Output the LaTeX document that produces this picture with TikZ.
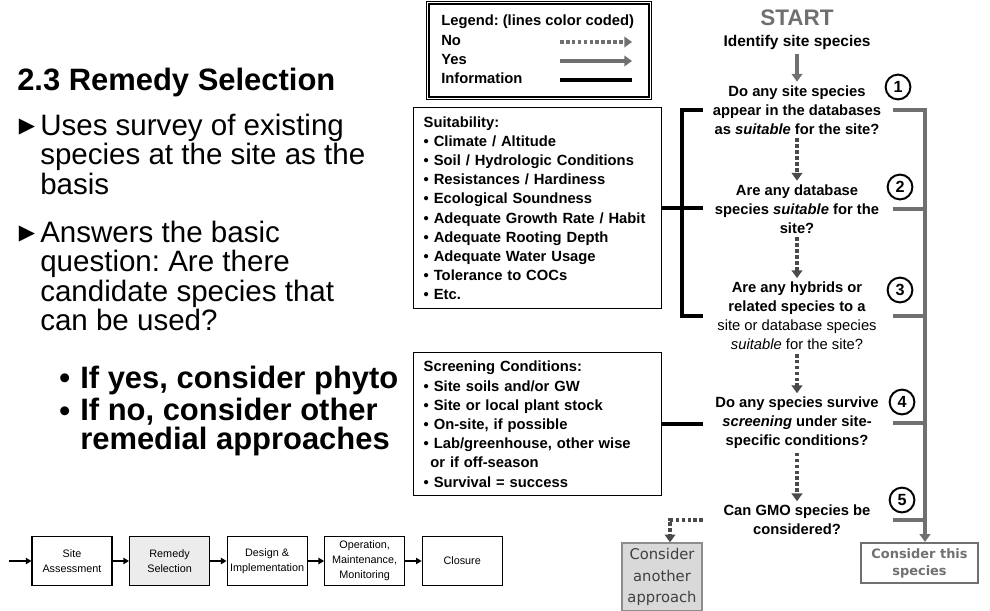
\documentclass[tikz,border=0pt]{standalone}
\usepackage{fontspec}
\setmainfont{Liberation Sans}
\newfontfamily\dejavu{DejaVu Sans}
\usetikzlibrary{arrows.meta,positioning}
\frenchspacing

\definecolor{yesgray}{HTML}{707070}
\definecolor{nogray}{HTML}{4A4A4A}
\definecolor{altfill}{HTML}{D9D9D9}
\definecolor{stagefill}{HTML}{ECECEC}

\begin{document}
\begin{tikzpicture}[x=0.025cm,y=-0.025cm,
  bodytxt/.style={anchor=north west,align=left,inner sep=0pt,font=\fontsize{21}{20.8}\selectfont},
  subtxt/.style={bodytxt,font=\fontsize{22}{20.8}\selectfont\bfseries},
  qtxt/.style={align=center,inner sep=2.5pt,font=\fontsize{10.5}{13.6}\selectfont\bfseries},
  numc/.style={circle,draw,line width=1.4pt,minimum size=0.62cm,inner sep=0pt,font=\fontsize{11.5}{11.5}\selectfont\bfseries},
  infobox/.style={draw,line width=1pt,anchor=north west,align=left,inner xsep=7pt,text width=5.7cm,minimum width=6.2cm,font=\fontsize{10.5}{13.65}\selectfont\bfseries},
  legtxt/.style={anchor=west,inner sep=0pt,text height=7.5pt,text depth=2pt,font=\fontsize{10.5}{12}\selectfont\bfseries},
  yesline/.style={draw=yesgray,line width=2.2pt},
  noline/.style={draw=nogray,line width=2.2pt,dash pattern=on 2.6pt off 1.6pt},
  infoline/.style={draw=black,line width=2.6pt},
  flowtip/.style={-{Triangle[length=5.5pt,width=7.5pt]}},
  stage/.style={draw,line width=0.8pt,minimum width=2cm,minimum height=1.225cm,align=center,inner sep=1pt,font=\fontsize{7.7}{10.6}\selectfont},
  stagearrow/.style={line width=1pt,-{Triangle[length=4pt,width=4.5pt]}}
]
\useasboundingbox (0,0) rectangle (990,610);

% slide text on the left
\node[anchor=base west,inner sep=0pt,font=\fontsize{22}{26}\selectfont\bfseries] (title) at (17,91) {2.3 Remedy Selection};
\node[inner sep=0pt,font=\dejavu\fontsize{15}{15}\selectfont] (m1) at (27,127) {▶};
\node[bodytxt] (b1) at (40,114) {Uses survey of existing\\species at the site as the\\basis};
\node[inner sep=0pt,font=\dejavu\fontsize{15}{15}\selectfont] (m2) at (27,234) {▶};
\node[bodytxt] (b2) at (40,221) {Answers the basic\\question: Are there\\candidate species that\\can be used?};
\node[anchor=base west,inner sep=0pt,font=\fontsize{22}{22}\selectfont\bfseries] (d1) at (59,388) {•};
\node[anchor=base west,inner sep=0pt,font=\fontsize{22}{22}\selectfont\bfseries] (yes) at (80,388) {If yes, consider phyto};
\node[anchor=base west,inner sep=0pt,font=\fontsize{22}{22}\selectfont\bfseries] (d2) at (59,421) {•};
\node[subtxt] (no) at (80,398) {If no, consider other\\remedial approaches};

% legend
\node[draw,line width=1.1pt,double=white,double distance=0.7pt,minimum width=5.55cm,minimum height=2.375cm,inner sep=0pt] (legbox) at (539,50.5) {};
\node[legtxt] (lgt) at (441,22) {Legend: (lines color coded)};
\node[legtxt] (lgno) at (441,42) {No};
\node[legtxt] (lgyes) at (441,61) {Yes};
\node[legtxt] (lginfo) at (441,80) {Information};
\coordinate (la) at (560,0);
\coordinate (lb) at (632,0);
\draw[noline,draw=yesgray,flowtip] (lgno -| la) -- (lgno -| lb);
\draw[yesline,flowtip] (lgyes -| la) -- (lgyes -| lb);
\draw[infoline] (lginfo -| la) -- (lginfo -| lb);

% information boxes
\node[infobox,minimum height=5.025cm] (suit) at (413,107) {Suitability:\\
• Climate / Altitude\\
• Soil / Hydrologic Conditions\\
• Resistances / Hardiness\\
• Ecological Soundness\\
• Adequate Growth Rate / Habit\\
• Adequate Rooting Depth\\
• Adequate Water Usage\\
• Tolerance to COCs\\
• Etc.};
\node[infobox,minimum height=3.575cm] (screen) at (413,352) {Screening Conditions:\\
• Site soils and/or GW\\
• Site or local plant stock\\
• On-site, if possible\\
• Lab/greenhouse, other wise\\
\hspace*{0.45em}or if off-season\\
• Survival = success};

% decision chain
\node[qtxt,font=\fontsize{16}{18}\selectfont\bfseries,text=yesgray] (start) at (797,18) {START};
\node[qtxt,font=\fontsize{11}{13}\selectfont\bfseries] (ident) at (797,43) {Identify site species};
\node[qtxt] (q1) at (797,110) {Do any site species\\appear in the databases\\as \textit{suitable} for the site?};
\node[qtxt] (q2) at (797,209) {Are any database\\species \textit{suitable} for the\\site?};
\node[qtxt] (q3) at (797,316) {Are any hybrids or\\related species to a\\{\mdseries site or database species}\\{\mdseries\textit{suitable} for the site?}};
\node[qtxt] (q4) at (797,423) {Do any species survive\\\textit{screening} under site-\\specific conditions?};
\node[qtxt] (q5) at (797,520) {Can GMO species be\\considered?};

\node[numc] (n1) at (898,87) {1};
\node[numc] (n2) at (900,187) {2};
\node[numc] (n3) at (900,290) {3};
\node[numc] (n4) at (902,402) {4};
\node[numc] (n5) at (902,500) {5};

\node[draw=yesgray,line width=1.5pt,minimum width=2.925cm,minimum height=1cm,align=center,text=yesgray,font=\dejavu\fontsize{9.2}{12.2}\selectfont\bfseries] (this) at (919.5,563) {Consider this\\species};
\node[draw=yesgray!80,line width=1pt,fill=altfill,minimum width=2cm,minimum height=1.7cm,align=center,inner sep=1pt,text=black!75,font=\dejavu\fontsize{10.5}{15.5}\selectfont] (another) at (662,577) {Consider\\another\\approach};

\draw[yesline,flowtip] (ident) -- (q1);
\draw[noline,flowtip] (q1) -- (q2);
\draw[noline,flowtip] (q2) -- (q3);
\draw[noline,flowtip] (q3) -- (q4);
\draw[noline,flowtip] (q4) -- (q5);

% yes bus on the right
\coordinate (gx) at (893,0);
\coordinate (bx) at (925,0);
\draw[yesline,flowtip] (q1 -| gx) -- (q1 -| bx) -- (bx |- this.north);
\foreach \q in {q2,q3,q4,q5}
  \draw[yesline] (\q -| gx) -- (\q -| bx);

% information links
\coordinate (kx) at (682,0);
\coordinate (kx2) at (703,0);
\draw[infoline] (q1 -| kx2) -- (q1 -| kx) -- (q3 -| kx) -- (q3 -| kx2);
\draw[infoline] (suit.east) -- (suit.east -| kx2);
\draw[infoline] (screen.east) -- (screen.east -| kx2);

% no from the last question
\draw[noline,flowtip] (q5 -| kx2) -| ([xshift=0.2cm]another.north);

% project stages
\coordinate (entry) at (9,561);
\node[stage] (s1) at (72,561) {Site\\Assessment};
\node[stage,fill=stagefill,right=0.41cm of s1] (s2) {Remedy\\Selection};
\node[stage,right=0.41cm of s2] (s3) {Design \&\\Implementation};
\node[stage,right=0.41cm of s3] (s4) {Operation,\\Maintenance,\\Monitoring};
\node[stage,right=0.41cm of s4] (s5) {Closure};
\draw[stagearrow] (entry) -- (s1);
\foreach \a/\b in {s1/s2,s2/s3,s3/s4,s4/s5}
  \draw[stagearrow] (\a) -- (\b);
\end{tikzpicture}
\end{document}
